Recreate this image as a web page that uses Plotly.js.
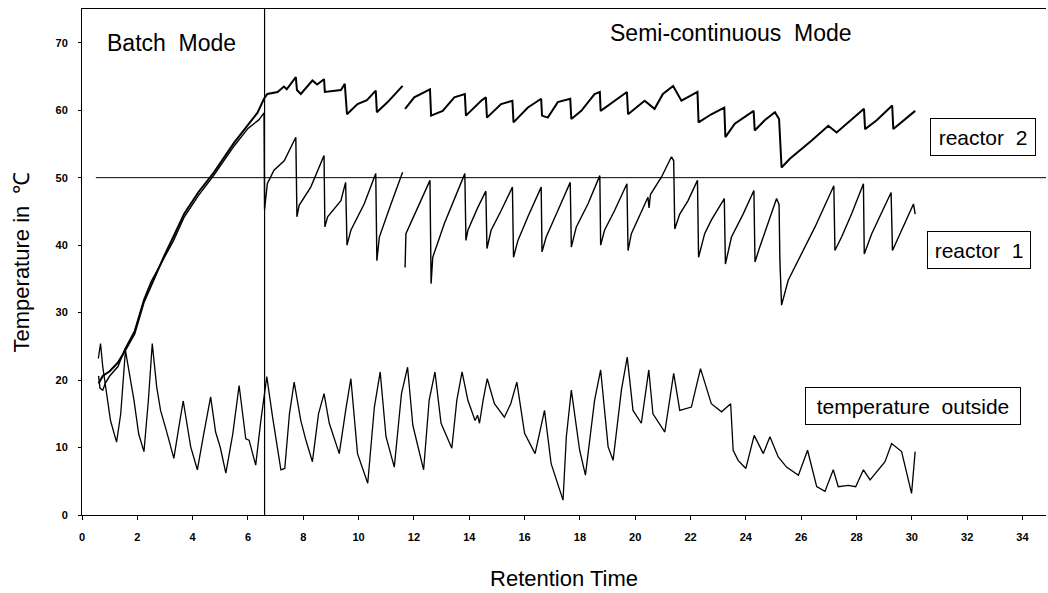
<!DOCTYPE html>
<html>
<head>
<meta charset="utf-8">
<script src="https://cdn.plot.ly/plotly-3.0.1.min.js"></script>
<style>html,body{margin:0;padding:0;background:#fff;}#chart{width:1048px;height:593px;}</style>
</head>
<body>
<div id="chart"></div>
<script>
// ---- Data ----
const outsideX = [0.59,0.67,0.75,1.03,1.25,1.4,1.57,1.88,2.05,2.24,2.4,2.54,2.7,2.84,3.05,3.32,3.5,3.66,3.93,4.17,4.4,4.65,4.83,5.0,5.2,5.45,5.68,5.92,6.04,6.28,6.46,6.68,6.89,7.19,7.33,7.5,7.67,7.91,8.1,8.33,8.55,8.75,8.94,9.3,9.55,9.72,9.96,10.33,10.57,10.78,10.99,11.29,11.55,11.77,11.96,12.35,12.55,12.76,12.98,13.37,13.55,13.74,13.95,14.21,14.3,14.37,14.5,14.65,14.91,15.27,15.5,15.72,16.0,16.38,16.72,16.96,17.39,17.51,17.69,17.99,18.2,18.53,18.75,19.02,19.2,19.5,19.71,19.92,20.22,20.49,20.64,21.07,21.39,21.61,22.03,22.36,22.75,23.12,23.45,23.54,23.72,24.0,24.3,24.63,24.87,25.17,25.47,25.9,26.23,26.56,26.86,27.16,27.34,27.7,27.97,28.25,28.49,28.79,29.03,29.27,29.63,29.99,30.12];
const outsideY = [23.2,25.4,22,14,10.8,15,24.4,17,12,9.4,17,25.4,19,15.5,12.5,8.4,13,16.9,10.1,6.7,12,17.5,12.3,10,6.2,12,19.2,11.3,11.1,7.4,13.8,20.5,14.5,6.7,6.9,15,19.7,14,11,7.9,15,18,13.6,9.1,16,20.2,9.1,4.7,16,21.2,11.6,7.1,18,21.9,13.3,6.7,17,21.2,13.6,9.9,17,21.2,17,14,14.8,13.6,17,20.2,16.5,14.5,16.5,19.7,12.1,9.1,15.5,7.6,2.2,11.6,18.5,9.6,5.9,17,21.5,10.1,8.1,18.5,23.4,15.5,13.6,21.5,15,12.3,21,15.5,16,21.7,16.5,15.3,16.5,9.6,8.1,6.9,11.8,9.1,11.6,8.6,7.1,5.9,9.6,4.2,3.5,6.7,4.2,4.4,4.2,6.7,5.2,6.7,7.9,10.6,9.4,3.2,9.4];

const reactor2X = [0.6,0.75,1.0,1.3,1.55,1.9,2.24,2.5,2.96,3.3,3.7,4.2,4.77,5.5,6.0,6.34,6.58,6.7,7.07,7.3,7.4,7.73,7.77,7.91,8.33,8.5,8.75,8.78,9.36,9.5,9.58,9.96,10.3,10.62,10.66,11.05,11.59,null,11.68,12.01,12.58,12.62,13.04,13.46,13.84,13.88,14.43,14.6,14.64,15.15,15.56,15.6,16.12,16.6,16.63,16.84,17.2,17.65,17.69,18.05,18.53,18.72,18.75,19.25,19.7,19.74,20.34,20.7,21.0,21.37,21.67,22.25,22.29,22.75,23.22,23.26,23.6,24.28,24.32,24.68,25.05,25.2,25.29,25.59,26.38,26.98,27.28,28.27,28.31,28.73,29.29,29.33,30.12];
const reactor2Y = [19.5,20.6,21.3,22.6,24.3,26.9,31.6,34.1,38.3,41.2,44.7,47.8,50.8,55.2,57.9,59.6,61.7,62.4,62.7,63.5,63.1,64.9,63,62.4,64.4,63.8,64.6,62.7,63,63.9,59.4,60.9,61.5,62.9,59.7,61.2,63.6,null,60.2,61.9,63.1,59.2,59.9,61.9,62.4,59.2,61.4,61.9,58.9,60.9,61.4,58.2,60.4,61.7,59.2,58.9,61.2,61.7,58.7,59.9,62.4,62.7,59.9,61.4,62.7,59.4,61.4,60.2,62.4,63.6,61.4,62.7,58.2,59.4,60.4,56,58,59.9,57,58.5,59.7,58.7,51.5,52.8,55.5,57.7,56.7,60.2,57.2,58.5,60.7,57.2,59.9];

const reactor1X = [0.6,0.65,0.75,0.85,1.0,1.3,1.55,1.9,2.24,2.5,2.9,3.3,3.7,4.2,4.77,5.5,6.0,6.4,6.58,6.6,6.7,6.94,7.31,7.73,7.77,7.85,8.27,8.75,8.78,8.88,9.36,9.53,9.58,9.72,10.2,10.62,10.66,10.75,11.17,11.59,null,11.68,11.71,12.14,12.58,12.62,12.68,13.1,13.84,13.88,13.95,14.31,14.6,14.64,14.79,15.15,15.56,15.6,15.76,16.12,16.6,16.63,16.78,17.2,17.65,17.69,17.87,18.29,18.72,18.75,18.89,19.25,19.7,19.74,19.86,20.46,20.5,20.55,20.95,21.31,21.39,21.43,21.61,21.91,22.25,22.29,22.51,22.75,23.22,23.26,23.48,23.9,24.29,24.33,24.5,25.11,25.2,25.23,25.29,25.53,26.02,26.5,27.18,27.22,27.46,27.82,28.25,28.28,28.55,29.25,29.3,29.63,30.06,30.12];
const reactor1Y = [20.6,18.8,18.5,19.6,20.6,22,24.6,27.3,32,34.6,37.6,40.6,44.2,47.3,50.4,54.7,57.3,58.6,59.6,45.3,49.1,51.1,52.5,56,44.2,45.9,48.6,53.3,42.7,44.2,46.6,49.3,40,42.2,46.1,50.6,37.7,41.2,46.1,50.8,null,36.7,41.7,45.6,49.6,34.3,38.2,43.2,50.6,40.7,42.2,45.6,48,39.5,42.2,45.1,48.6,38.2,40.7,44.2,48.6,39,41.2,45.1,49.3,39.7,42.7,46.1,50.3,40,42.2,45.1,49.1,39.2,41.7,47.1,45.5,47.5,50.1,53.1,52.5,42.4,44.6,46.6,49.6,38.2,41.7,43.7,46.9,37.2,41.2,44.6,48.1,37.5,39.7,46.9,46,37.7,31.1,34.8,38.7,42.7,48.8,39.2,41.2,44.6,49.1,38.7,41.7,47.8,39.2,42.2,46.1,44.6];

const batchEnd = 6.6;        // end of batch mode (vertical line)
const targetTemp = 50;       // horizontal reference line
const targetStart = 0.5;
const xTicks = [0,2,4,6,8,10,12,14,16,18,20,22,24,26,28,30,32,34];
const yTicks = [0,10,20,30,40,50,60,70];

const labels = {
  batch: 'Batch\u00a0 Mode',
  semi: 'Semi-continuous\u00a0 Mode',
  r2: 'reactor\u00a0 2',
  r1: 'reactor\u00a0 1',
  outside: 'temperature\u00a0 outside'
};

// ---- Chart ----
const lineStyle = (w) => ({color: '#000', width: w});
const traces = [
  {x: outsideX, y: outsideY, mode: 'lines', line: lineStyle(1.3), name: 'temperature outside', connectgaps: false},
  {x: reactor1X, y: reactor1Y, mode: 'lines', line: lineStyle(1.4), name: 'reactor 1', connectgaps: false},
  {x: reactor2X, y: reactor2Y, mode: 'lines', line: lineStyle(2), name: 'reactor 2', connectgaps: false}
];

const font = 'Liberation Sans, Arial, sans-serif';
const boxAnn = (x, y, text, w) => ({
  x: x, y: y, xref: 'x', yref: 'y', text: text, showarrow: false,
  font: {family: font, size: 21, color: '#000'},
  bordercolor: '#000', borderwidth: 1, borderpad: 0, bgcolor: '#fff',
  width: w, height: 36
});

const layout = {
  width: 1048, height: 593,
  margin: {l: 82, r: 2, t: 9, b: 78},
  paper_bgcolor: '#fff', plot_bgcolor: '#fff',
  showlegend: false,
  font: {family: font, color: '#000'},
  xaxis: {
    range: [0, 34.85], tickvals: xTicks, ticktext: xTicks.map(String),
    showline: true, linecolor: '#000', linewidth: 1, mirror: true,
    ticks: 'outside', ticklen: 4, tickcolor: '#000', tickwidth: 1,
    showgrid: false, zeroline: false,
    tickfont: {family: font, size: 11, weight: 'bold', color: '#000'},
    ticklabelstandoff: 8,
    title: {text: 'Retention Time', font: {family: font, size: 22, color: '#000'}, standoff: 28}
  },
  yaxis: {
    range: [0, 75], tickvals: yTicks, ticktext: yTicks.map(String),
    showline: true, linecolor: '#000', linewidth: 1,
    ticks: 'outside', ticklen: 3, tickcolor: '#000', tickwidth: 1,
    showgrid: false, zeroline: false,
    tickfont: {family: font, size: 11, weight: 'bold', color: '#000'},
    ticklabelstandoff: 8,
    title: {text: 'Temperature in\u00a0 \u2103', font: {family: font, size: 22, color: '#000'}, standoff: 19}
  },
  shapes: [
    {type: 'line', xref: 'x', yref: 'paper', x0: batchEnd, x1: batchEnd, y0: 0, y1: 1, line: {color: '#000', width: 1.2}},
    {type: 'line', xref: 'x', yref: 'y', x0: targetStart, x1: 34.85, y0: targetTemp, y1: targetTemp, line: {color: '#000', width: 1}}
  ],
  annotations: [
    {x: 3.22, y: 70, xref: 'x', yref: 'y', text: labels.batch, showarrow: false, font: {family: font, size: 23, color: '#000'}},
    {x: 23.46, y: 71.5, xref: 'x', yref: 'y', text: labels.semi, showarrow: false, font: {family: font, size: 23, color: '#000'}},
    boxAnn(32.57, 56.1, labels.r2, 104),
    boxAnn(32.43, 39.3, labels.r1, 102),
    boxAnn(30.04, 16.2, labels.outside, 214)
  ]
};

Plotly.newPlot('chart', traces, layout, {staticPlot: true, displayModeBar: false});
</script>
</body>
</html>
